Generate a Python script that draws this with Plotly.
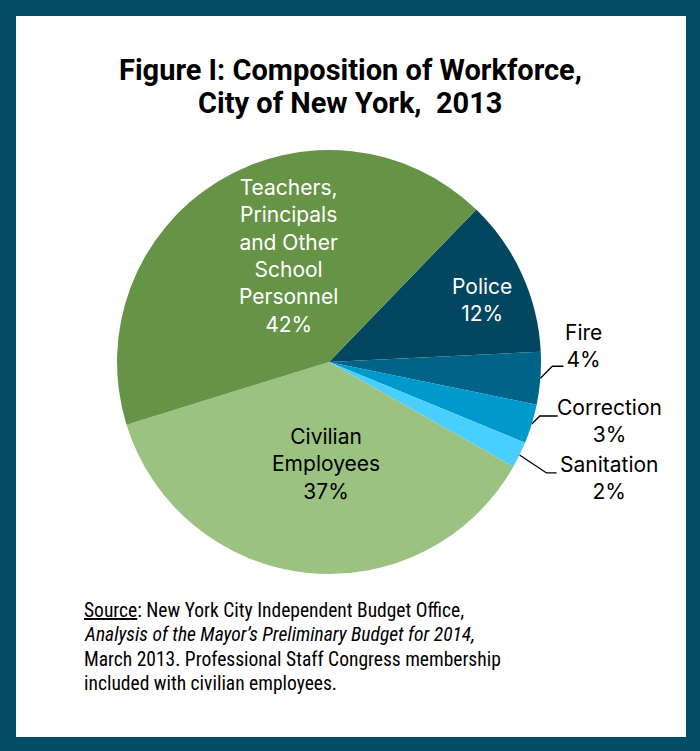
import math
import plotly.graph_objects as go

# Workforce composition, City of New York, 2013 (percent of total)
categories = ["Police", "Fire", "Correction", "Sanitation", "Civilian<br>Employees",
              "Teachers,<br>Principals<br>and Other<br>School<br>Personnel"]
shares = [12, 4, 3, 2, 37, 42]
slice_colors = ["#02475f", "#006488", "#0099cc", "#48cfff", "#9bc281", "#679347"]
text_colors = ["white", "black", "black", "black", "black", "white"]
called_out = [False, True, True, True, False, False]

title_lines = ["Figure I: Composition of Workforce,", "City of New York,  2013"]
source_lines = [
    "<u>Source</u>: New York City Independent Budget Office,",
    "<i>Analysis of the Mayor\u2019s Preliminary Budget for 2014,</i>",
    "March 2013. Professional Staff Congress membership",
    "included with civilian employees.",
]

TITLE_FONT = "Roboto, Arial, sans-serif"
SOURCE_FONT = "Liberation Sans Narrow, Arial Narrow, Roboto Condensed, sans-serif"
LABEL_FONT = "Inter, Roboto, Arial, sans-serif"
W, H = 700, 751
CX, CY, R = 329, 362, 212       # pie centre and radius, in pixels
ROTATION = 44                   # degrees clockwise from 12 o'clock

# label placement: inside labels sit on the slice mid-angle at a fraction of the
# radius (plus a small nudge); small slices get an elbowed leader line instead
label_style = {
    "Police": dict(r=0.75, nudge=(8, 4)),
    "Civilian<br>Employees": dict(r=0.5, nudge=(8, -3)),
    "Teachers,<br>Principals<br>and Other<br>School<br>Personnel": dict(r=0.55, nudge=(21, -7)),
    "Fire": dict(elbow=(12, -12), end=(23, -12), text=(20, -20)),
    "Correction": dict(elbow=(8, -8), end=(26, -8), text=(52, 5)),
    "Sanitation": dict(elbow=(27, 18), end=(37, 18), text=(52, 5)),
}

fig = go.Figure()

fig.add_trace(go.Pie(
    labels=categories,
    values=shares,
    sort=False,
    direction="clockwise",
    rotation=ROTATION,
    marker=dict(colors=slice_colors, line=dict(width=0)),
    textinfo="none",
    hoverinfo="label+value",
    showlegend=False,
    domain=dict(x=[(CX - R) / W, (CX + R) / W], y=[1 - (CY + R) / H, 1 - (CY - R) / H]),
))

total = sum(shares)
annotations = []
cum = 0
for name, val, out, tcol in zip(categories, shares, called_out, text_colors):
    mid = math.radians(ROTATION + 360 * (cum + val / 2) / total)
    cum += val
    st = label_style[name]
    label_font = dict(family=LABEL_FONT, size=21, color=tcol)
    if not out:
        r = st["r"] * R
        annotations.append(dict(
            text=f"{name}<br>{val}%", xref="x", yref="y",
            x=CX + r * math.sin(mid) + st["nudge"][0],
            y=CY - r * math.cos(mid) + st["nudge"][1],
            xanchor="center", yanchor="middle", showarrow=False, font=label_font))
        continue
    ex = CX + R * math.sin(mid)
    ey = CY - R * math.cos(mid)
    xs = [ex, ex + st["elbow"][0], ex + st["end"][0]]
    ys = [ey, ey + st["elbow"][1], ey + st["end"][1]]
    fig.add_trace(go.Scatter(x=xs, y=ys, mode="lines", line=dict(color="black", width=1.3),
                             hoverinfo="skip", showlegend=False))
    annotations.append(dict(
        text=f"{name}<br>{val}%", xref="x", yref="y",
        x=xs[-1] + st["text"][0], y=ys[-1] + st["text"][1],
        xanchor="center", yanchor="middle", showarrow=False, font=label_font))

for i, line in enumerate(title_lines):
    annotations.append(dict(
        text=f"<b>{line}</b>", xref="paper", yref="paper",
        x=0.5, y=1 - (50.5 + 33.5 * i) / H, xanchor="center", yanchor="top",
        showarrow=False, font=dict(family=TITLE_FONT, size=29, color="black")))

for i, line in enumerate(source_lines):
    annotations.append(dict(
        text=line, xref="paper", yref="paper",
        x=82 / W, y=1 - (597 + 24.4 * i) / H, xanchor="left", yanchor="top",
        align="left", showarrow=False, font=dict(family=SOURCE_FONT, size=19.5, color="black")))

fig.update_layout(
    width=W, height=H,
    margin=dict(l=0, r=0, t=0, b=0),
    paper_bgcolor="#034c66",
    plot_bgcolor="rgba(0,0,0,0)",
    xaxis=dict(range=[0, W], visible=False, fixedrange=True, domain=[0, 1]),
    yaxis=dict(range=[H, 0], visible=False, fixedrange=True, domain=[0, 1]),
    shapes=[dict(type="rect", xref="paper", yref="paper", layer="below",
                 x0=16 / W, x1=686 / W, y0=1 - 737 / H, y1=1 - 16 / H,
                 fillcolor="white", line=dict(width=0))],
    annotations=annotations,
)

fig.write_html("out.html")
